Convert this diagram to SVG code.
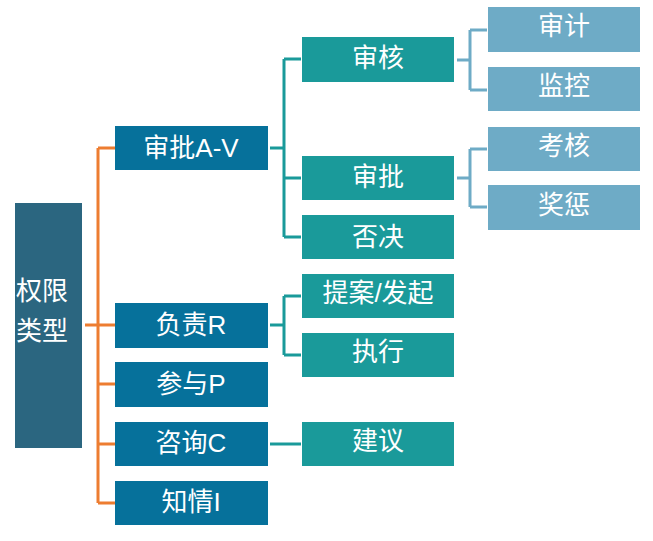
<svg xmlns="http://www.w3.org/2000/svg" width="653" height="541" viewBox="0 0 653 541">
<style>
text{font-family:"Liberation Sans","Noto Sans CJK SC",sans-serif;font-size:26px;fill:#ffffff;text-anchor:middle}
.root{fill:#2b6680}
.l1{fill:#06719b}
.l2{fill:#1a9a9a}
.l3{fill:#6eabc6}
.co{fill:none;stroke:#ed7d31;stroke-width:3}
.ct{fill:none;stroke:#1a9a9a;stroke-width:3}
.cb{fill:none;stroke:#6eabc6;stroke-width:3}
</style>
<rect width="653" height="541" fill="#ffffff"/>
<g id="connectors">
<path class="co" d="M85 325H98M98 148V503M98 148H115M98 325H115M98 384H115M98 444H115M98 503H115"/>
<path class="ct" d="M270 148H284M284 59V237M284 59H301M284 178H301M284 237H301"/>
<path class="ct" d="M270 325H284M284 296V355M284 296H301M284 355H301"/>
<path class="ct" d="M270 444H301"/>
<path class="cb" d="M457 60H470M470 30V90M470 30H487M470 90H487"/>
<path class="cb" d="M457 178H470M470 149V207M470 149H487M470 207H487"/>
</g>
<g id="root"><rect class="root" x="15" y="203" width="67" height="245"/><text x="42" y="300">权限</text><text x="42" y="340">类型</text></g>
<g id="n-approve-av"><rect class="l1" x="115" y="126" width="153" height="44"/><text x="191" y="157">审批A-V</text></g>
<g id="n-responsible"><rect class="l1" x="115" y="303" width="153" height="45"/><text x="191" y="334">负责R</text></g>
<g id="n-participate"><rect class="l1" x="115" y="362" width="153" height="45"/><text x="191" y="393">参与P</text></g>
<g id="n-consult"><rect class="l1" x="115" y="422" width="153" height="44"/><text x="191" y="452">咨询C</text></g>
<g id="n-inform"><rect class="l1" x="115" y="481" width="153" height="44"/><text x="191" y="511">知情I</text></g>
<g id="n-review"><rect class="l2" x="302" y="37" width="152" height="45"/><text x="378" y="67">审核</text></g>
<g id="n-approve"><rect class="l2" x="302" y="156" width="152" height="44"/><text x="378" y="186">审批</text></g>
<g id="n-veto"><rect class="l2" x="302" y="215" width="152" height="44"/><text x="378" y="246">否决</text></g>
<g id="n-propose"><rect class="l2" x="302" y="274" width="152" height="44"/><text x="378" y="302">提案/发起</text></g>
<g id="n-execute"><rect class="l2" x="302" y="333" width="152" height="44"/><text x="378" y="361">执行</text></g>
<g id="n-advise"><rect class="l2" x="302" y="422" width="152" height="44"/><text x="378" y="450">建议</text></g>
<g id="n-audit"><rect class="l3" x="488" y="7" width="152" height="45"/><text x="564" y="35">审计</text></g>
<g id="n-monitor"><rect class="l3" x="488" y="67" width="152" height="44"/><text x="564" y="95">监控</text></g>
<g id="n-assess"><rect class="l3" x="488" y="127" width="152" height="44"/><text x="564" y="155">考核</text></g>
<g id="n-reward"><rect class="l3" x="488" y="185" width="152" height="45"/><text x="564" y="214">奖惩</text></g>
</svg>
